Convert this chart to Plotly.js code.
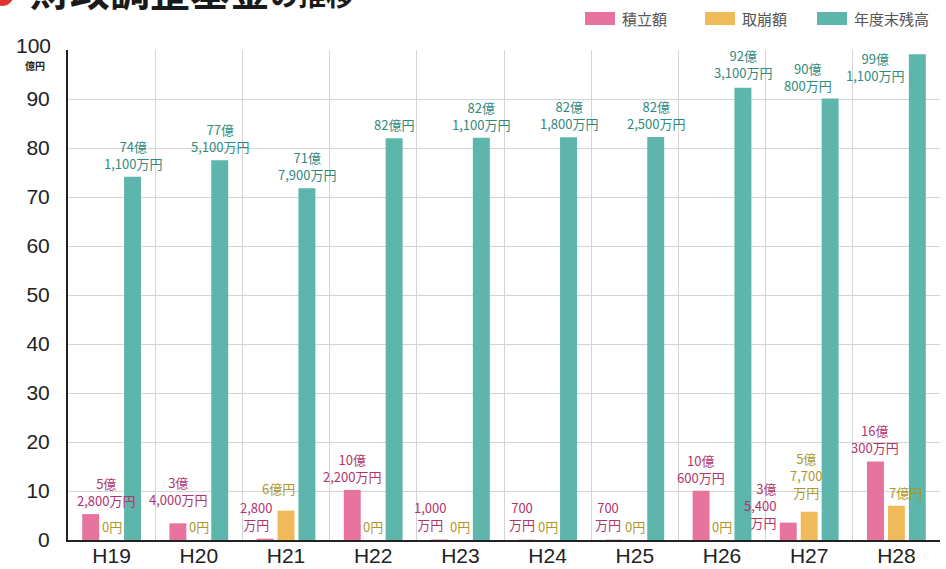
<!DOCTYPE html>
<html>
<head>
<meta charset="utf-8">
<script src="https://cdn.plot.ly/plotly-3.0.1.min.js"></script>
<style>
  html, body { margin: 0; padding: 0; background: #fff; }
  #chart { width: 946px; height: 569px; }
</style>
</head>
<body>
<div id="chart"></div>
<script>
// ---- data (億円) ----
const categories = ['H19', 'H20', 'H21', 'H22', 'H23', 'H24', 'H25', 'H26', 'H27', 'H28'];
const seriesNames = ['積立額', '取崩額', '年度末残高'];
const reserve    = [5.28, 3.40, 0.28, 10.22, 0.10, 0.07, 0.07, 10.06, 3.54, 16.03];
const withdrawal = [0, 0, 6.00, 0, 0, 0, 0, 0, 5.77, 7.00];
const balance    = [74.11, 77.51, 71.79, 82.00, 82.11, 82.18, 82.25, 92.31, 90.08, 99.11];
const reserveLabels = ['5億<br>2,800万円', '3億<br>4,000万円', '2,800<br>万円', '10億<br>2,200万円', '1,000<br>万円',
                       '700<br>万円', '700<br>万円', '10億<br>600万円', '3億<br>5,400<br>万円', '16億<br>300万円'];
const withdrawalLabels = ['0円', '0円', '6億円', '0円', '0円', '0円', '0円', '0円', '5億<br>7,700<br>万円', '7億円'];
const balanceLabels = ['74億<br>1,100万円', '77億<br>5,100万円', '71億<br>7,900万円', '82億円', '82億<br>1,100万円',
                       '82億<br>1,800万円', '82億<br>2,500万円', '92億<br>3,100万円', '90億<br>800万円', '99億<br>1,100万円'];
const yTickVals = [0, 10, 20, 30, 40, 50, 60, 70, 80, 90, 100];
const unitLabel = '億円';
const titleMain = '財政調整基金';
const titleTail = 'の推移';

// ---- styling ----
const W = 946, H = 569;
const M = {l: 68, r: 6, t: 50, b: 29};
const plotW = W - M.l - M.r, plotH = H - M.t - M.b;
const px2x = p => (p - M.l) / plotW;
const px2y = p => (H - M.b - p) / plotH;

const barColors   = ['#e7749f', '#efbb5a', '#5db5ac'];
const labelColors = ['#b3336c', '#ad972c', '#2f8a80'];
const slotShift   = [-21, 0, 21];           // px, centre of each bar in its group
const values = [reserve, withdrawal, balance];
const labels = [reserveLabels, withdrawalLabels, balanceLabels];

// per-label placement tweaks (px, relative to category centre); not data
const placement = [
  {0: {dx: -6}, 1: {dy: 12}, 2: {xa: 'right', dx: -12, zero: true, dy: 4},
   4: {xa: 'right', dx: -12, zero: true, dy: 4}, 5: {xa: 'right', dx: -11, zero: true, dy: 4},
   6: {xa: 'right', dx: -12, zero: true, dy: 4}, 8: {xa: 'right', dx: -31, zero: true, dy: 6, align: 'right'}},
  {2: {xa: 'right', dx: 11, dy: 11}, 8: {dx: -3, dy: 8}, 9: {xa: 'left', dx: -9, dy: 2}},
  {7: {dy: 4}, 8: {xa: 'right', dx: 25}, 9: {xa: 'right', dx: 10, dy: -33}}
];

const traces = seriesNames.map((name, s) => ({
  type: 'bar',
  name: name,
  x: categories,
  y: values[s],
  marker: {color: barColors[s], line: {width: 0}},
  hoverinfo: 'skip',
  showlegend: false
}));

const annotations = [];
values.forEach((vals, s) => {
  vals.forEach((v, i) => {
    const p = placement[s][i] || {};
    annotations.push({
      xref: 'x', yref: 'y',
      x: categories[i], y: p.zero ? 0 : v,
      text: labels[s][i],
      showarrow: false,
      xanchor: p.xa || 'center',
      yanchor: 'bottom',
      xshift: (p.dx !== undefined ? p.dx : slotShift[s]),
      yshift: (p.dy !== undefined ? p.dy : 2),
      align: p.align || 'center',
      font: {family: '"Noto Sans CJK JP", "Noto Sans", sans-serif', size: 13, color: labelColors[s]}
    });
  });
});

// top tick label "100" raised to leave room for the unit
const topTick = yTickVals[yTickVals.length - 1];
annotations.push({
  xref: 'paper', yref: 'y', x: px2x(53), y: topTick, yshift: 5,
  text: String(topTick), showarrow: false, xanchor: 'right', yanchor: 'middle',
  font: {family: '"Liberation Sans", Arial, sans-serif', size: 21, color: '#222'}
});
// unit label under "100"
annotations.push({
  xref: 'paper', yref: 'paper', x: px2x(35), y: px2y(65),
  text: '<b>' + unitLabel + '</b>', showarrow: false, xanchor: 'center', yanchor: 'middle',
  font: {family: '"Noto Sans CJK JP", sans-serif', size: 10, color: '#222'}
});

// (clipped) title
annotations.push({
  xref: 'paper', yref: 'paper', x: px2x(28), y: px2y(12),
  text: '<b>' + titleMain + '<span style="font-size:28px">' + titleTail + '</span></b>',
  showarrow: false, xanchor: 'left', yanchor: 'bottom', yshift: -8,
  font: {family: '"Noto Sans CJK JP", sans-serif', size: 40, color: '#1a1a1a'}
});

// custom legend
const shapes = [];
const legendX = [585, 705, 817];
seriesNames.forEach((name, s) => {
  shapes.push({
    type: 'rect', xref: 'paper', yref: 'paper',
    x0: px2x(legendX[s]), x1: px2x(legendX[s] + 30),
    y0: px2y(25), y1: px2y(12),
    fillcolor: barColors[s], line: {width: 0}
  });
  annotations.push({
    xref: 'paper', yref: 'paper', x: px2x(legendX[s] + 35), y: px2y(18.5),
    text: name, showarrow: false, xanchor: 'left', yanchor: 'middle',
    font: {family: '"Noto Sans CJK JP", sans-serif', size: 15, color: '#555'}
  });
});

// red title bullet (mostly off-canvas)
shapes.push({
  type: 'circle', xref: 'paper', yref: 'paper',
  x0: px2x(-10), x1: px2x(14), y0: px2y(6), y1: px2y(-18),
  fillcolor: '#e0342c', line: {width: 0}
});

const layout = {
  width: W, height: H,
  margin: M,
  paper_bgcolor: '#ffffff',
  plot_bgcolor: '#ffffff',
  barmode: 'group',
  bargap: 0.28,
  bargroupgap: 0.19,
  showlegend: false,
  font: {family: '"Liberation Sans", Arial, sans-serif', color: '#222'},
  xaxis: {
    type: 'category',
    tickson: 'boundaries',
    showgrid: true, gridcolor: '#d4d4d4', gridwidth: 1,
    showline: true, linecolor: '#222', linewidth: 2,
    ticks: '', automargin: false,
    ticklabelstandoff: -4,
    tickfont: {family: '"Liberation Sans", Arial, sans-serif', size: 21, color: '#222'},
    fixedrange: true
  },
  yaxis: {
    range: [0, 100],
    tickvals: yTickVals,
    ticktext: yTickVals.map(v => v === topTick ? '' : String(v)),
    showgrid: true, gridcolor: '#d4d4d4', gridwidth: 1,
    zeroline: false,
    showline: true, linecolor: '#222', linewidth: 2,
    ticks: 'outside', ticklen: 12, tickcolor: 'rgba(0,0,0,0)',
    automargin: false,
    tickfont: {family: '"Liberation Sans", Arial, sans-serif', size: 21, color: '#222'},
    fixedrange: true
  },
  annotations: annotations,
  shapes: shapes
};

Plotly.newPlot('chart', traces, layout, {displayModeBar: false, staticPlot: true});
</script>
</body>
</html>
